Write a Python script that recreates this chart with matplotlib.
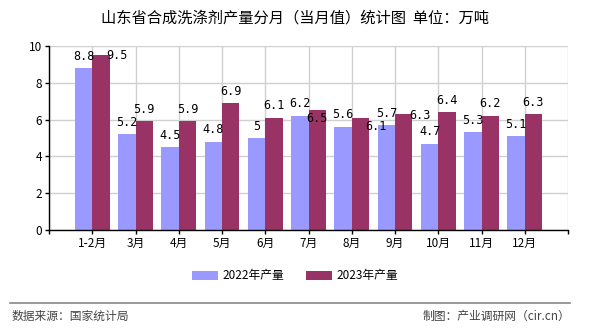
import matplotlib
matplotlib.use("Agg")
import matplotlib.pyplot as plt
import numpy as np

plt.rcParams['font.family'] = ['Noto Sans CJK SC', 'DejaVu Sans']

categories = ["1-2月", "3月", "4月", "5月", "6月", "7月", "8月", "9月", "10月", "11月", "12月"]
values_2022 = [8.8, 5.2, 4.5, 4.8, 5.0, 6.2, 5.6, 5.7, 4.7, 5.3, 5.1]
values_2023 = [9.5, 5.9, 5.9, 6.9, 6.1, 6.5, 6.1, 6.3, 6.4, 6.2, 6.3]
label_2022 = ["8.8", "5.2", "4.5", "4.8", "5", "6.2", "5.6", "5.7", "4.7", "5.3", "5.1"]
label_2023 = ["9.5", "5.9", "5.9", "6.9", "6.1", "6.5", "6.1", "6.3", "6.4", "6.2", "6.3"]
series_names = ["2022年产量", "2023年产量"]

# label placement tweaks (pixel offsets from default), mimicking the reference's collision avoidance
offsets_2023 = {0: (16, -12), 5: (0, -20), 6: (16, -21), 7: (16, -13)}

c22 = "#9999FF"
c23 = "#993366"

fig = plt.figure(figsize=(5.9, 3.3), dpi=100)
ax = fig.add_axes([49/590, 1-230/330, (568-49)/590, (230-46)/330])

x = np.arange(len(categories))
w = 0.4
b1 = ax.bar(x - w/2, values_2022, width=w, color=c22, label=series_names[0], zorder=3)
b2 = ax.bar(x + w/2, values_2023, width=w, color=c23, label=series_names[1], zorder=3)

for i, (v, t) in enumerate(zip(values_2022, label_2022)):
    ax.annotate(t, (x[i] - w/2, v), xytext=(0, 12), textcoords='offset pixels',
                ha='center', va='center', fontsize=8.5, family=['DejaVu Sans Mono'], zorder=5)
for i, (v, t) in enumerate(zip(values_2023, label_2023)):
    dx, dy = offsets_2023.get(i, (0, 0))
    ax.annotate(t, (x[i] + w/2, v), xytext=(dx, 12 + dy), textcoords='offset pixels',
                ha='center', va='center', fontsize=8.5, family=['DejaVu Sans Mono'], zorder=5)

ax.set_xlim(-1, len(categories))
ax.set_ylim(0, 10)
ax.set_yticks([0, 2, 4, 6, 8, 10])
ax.set_xticks(np.arange(-1, len(categories) + 1))
ax.set_xticklabels([""] + categories + [""])
ax.tick_params(axis='both', labelsize=8.5, length=3, width=1, color='black', pad=2)
ax.grid(True, color='#d0d0d0', linewidth=1, zorder=0)
for s in ['top', 'right']:
    ax.spines[s].set_visible(False)
for s in ['left', 'bottom']:
    ax.spines[s].set_color('black')
    ax.spines[s].set_linewidth(1)
    ax.spines[s].set_zorder(4)

fig.text(0.5, 1-18/330, "山东省合成洗涤剂产量分月（当月值）统计图  单位：万吨",
         ha='center', va='center', fontsize=11)

fig.legend(handles=[b1, b2], labels=series_names, loc='center', bbox_to_anchor=(0.5, 1-276/330),
           ncol=2, frameon=False, fontsize=8.5, handlelength=2.2, handleheight=0.9,
           columnspacing=1.8, handletextpad=0.4)

fig.add_artist(plt.Line2D([10/590, 570/590], [1-303/330, 1-303/330], color='#888888', linewidth=1.2))
fig.text(12/590, 1-316/330, "数据来源：国家统计局", ha='left', va='center', fontsize=8.5, color='#444444')
fig.text(570/590, 1-316/330, "制图：产业调研网（cir.cn）", ha='right', va='center', fontsize=8.5, color='#444444')

fig.savefig("out.png", dpi=100, facecolor='white')
